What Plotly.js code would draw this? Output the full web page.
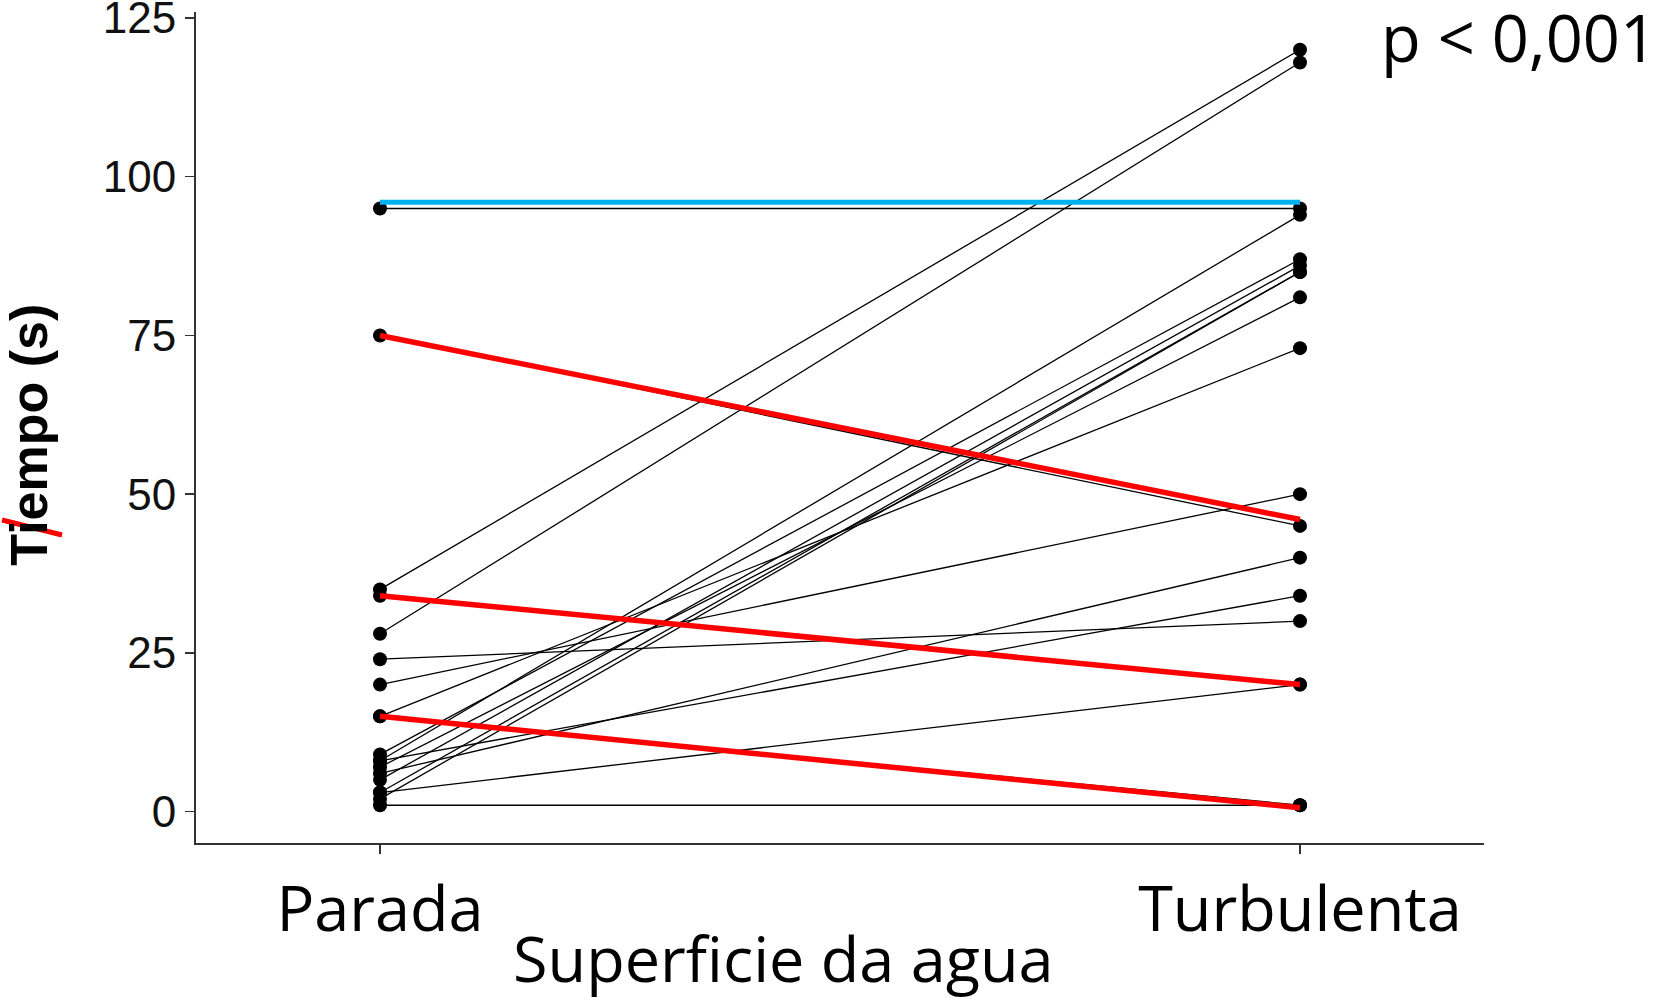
<!DOCTYPE html>
<html>
<head>
<meta charset="utf-8">
<script src="https://cdn.plot.ly/plotly-3.0.1.min.js"></script>
<style>
  html, body { margin: 0; padding: 0; background: #ffffff; }
  #chart { width: 1661px; height: 1000px; }
</style>
</head>
<body>
<div id="chart"></div>
<script>
// ---- data ----
const categories = ['Parada', 'Turbulenta'];
const parada     = [95, 75, 35, 28, 34, 24, 20, 15, 15, 1, 9, 8, 8, 7, 6, 5, 3, 3, 2];
const turbulenta = [95, 45, 120, 118, 20, 30, 50, 73, 1, 1, 87, 94, 34, 81, 40, 86, 85, 20, 85];
// hand-drawn highlight overlays
const redStart = [75, 34, 15];
const redEnd   = [46, 20, 0.6];
const blueStart = [96];
const blueEnd   = [96];
const yTicks = [0, 25, 50, 75, 100, 125];

const traces = [];
for (let i = 0; i < parada.length; i++) {
  traces.push({
    type: 'scatter', mode: 'lines+markers',
    x: categories, y: [parada[i], turbulenta[i]],
    line: { color: '#000000', width: 1.3 },
    marker: { color: '#000000', size: 14 },
    showlegend: false, hoverinfo: 'y'
  });
}
for (let i = 0; i < redStart.length; i++) {
  traces.push({
    type: 'scatter', mode: 'lines',
    x: categories, y: [redStart[i], redEnd[i]],
    line: { color: '#ff0000', width: 5.5 },
    showlegend: false, hoverinfo: 'skip'
  });
}
for (let i = 0; i < blueStart.length; i++) {
  traces.push({
    type: 'scatter', mode: 'lines',
    x: categories, y: [blueStart[i], blueEnd[i]],
    line: { color: '#00b0f0', width: 5 },
    showlegend: false, hoverinfo: 'skip'
  });
}

const layout = {
  width: 1661, height: 1000,
  margin: { l: 196, r: 177, t: 12, b: 157, pad: 0 },
  paper_bgcolor: '#ffffff', plot_bgcolor: '#ffffff',
  showlegend: false,
  xaxis: {
    type: 'category', categoryorder: 'array', categoryarray: categories,
    range: [-0.2, 1.2],
    showgrid: false, zeroline: false,
    showline: true, linecolor: '#333333', linewidth: 2,
    ticks: 'outside', ticklen: 9, tickwidth: 1.5, tickcolor: '#333333',
    ticklabelstandoff: 1,
    ticklabeloverflow: 'allow',
    tickfont: { family: 'Open Sans, sans-serif', size: 63, color: '#000000' }
  },
  yaxis: {
    range: [-4.95, 125.95],
    tickvals: yTicks, ticktext: yTicks.map(String),
    showgrid: false, zeroline: false,
    showline: true, linecolor: '#333333', linewidth: 2,
    ticks: 'outside', ticklen: 9, tickwidth: 1.5, tickcolor: '#333333',
    ticklabeloverflow: 'allow',
    tickfont: { family: 'Liberation Sans, Arial, sans-serif', size: 44, color: '#111111' },
    title: {
      text: '<b>Tiempo (s)&nbsp;</b>',
      font: { family: 'Liberation Sans, Arial, sans-serif', size: 52, color: '#000000' },
      standoff: 42
    }
  },
  annotations: [
    {
      text: 'Superficie da agua', showarrow: false,
      xref: 'paper', yref: 'paper', x: 0.4565, y: -0.084,
      xanchor: 'center', yanchor: 'top',
      font: { family: 'Open Sans, sans-serif', size: 63, color: '#000000' }
    },
    {
      text: 'p < 0,001', showarrow: false,
      xref: 'paper', yref: 'paper', x: 1.1359, y: 1.025,
      xanchor: 'right', yanchor: 'top',
      font: { family: 'Open Sans, sans-serif', size: 65, color: '#000000' }
    }
  ],
  shapes: [
    { type: 'line', xref: 'paper', yref: 'paper',
      x0: -0.1506, y0: 0.3887, x1: -0.104, y1: 0.3706,
      line: { color: '#ff0000', width: 5 } }
  ]
};

Plotly.newPlot('chart', traces, layout, { displayModeBar: false, staticPlot: true });
</script>
</body>
</html>
